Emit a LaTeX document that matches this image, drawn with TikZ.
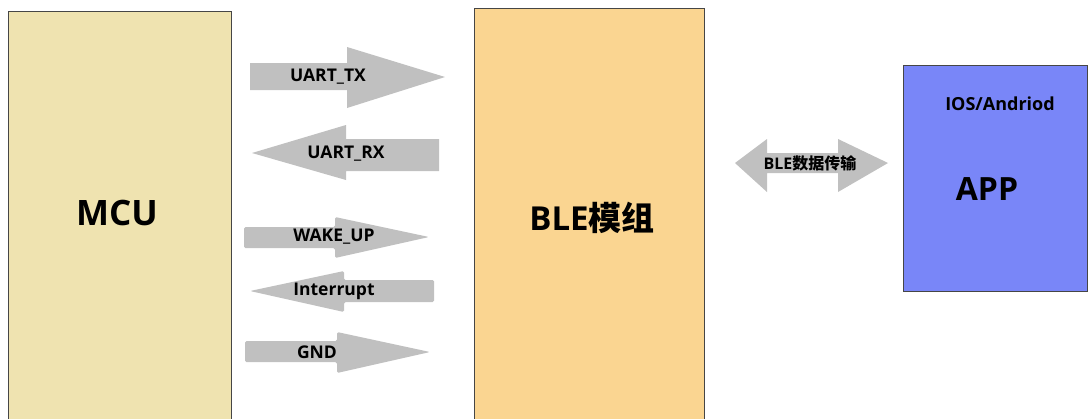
\documentclass[tikz,border=0pt]{standalone}
\usepackage{fontspec}
\setmainfont{Open Sans}
\newfontfamily\cjk{Noto Sans CJK SC}
\definecolor{mcufill}{RGB}{239,227,176}
\definecolor{blefill}{RGB}{250,213,145}
\definecolor{appfill}{RGB}{121,134,248}
\definecolor{arrgray}{RGB}{192,192,192}
\definecolor{edge}{RGB}{70,70,70}
\tikzset{
  blockbox/.style={draw=edge, line width=0.9pt},
  blockarrow/.style={fill=arrgray, draw=none},
  arrlabel/.style={font=\bfseries\fontsize{17.5}{20}\selectfont, inner sep=0pt, text=black},
}
\begin{document}
\begin{tikzpicture}[x=1pt,y=-1pt]
\useasboundingbox (0,0) rectangle (1089,418);
\clip (0,0) rectangle (1089,418);
\fill[white] (0,0) rectangle (1089,418);
% boxes
\draw[blockbox, fill=mcufill] (8,11) rectangle (231,430);
\draw[blockbox, fill=blefill] (474,8) rectangle (704,430);
\draw[blockbox, fill=appfill] (903,65) rectangle (1087,291);
\node[font=\bfseries\fontsize{35}{40}\selectfont, inner sep=0pt] (mcu) at (117,213) {MCU};
\node[font=\bfseries\fontsize{33}{38}\selectfont, inner sep=0pt] (ble) at (592,218) {BLE{\cjk\bfseries 模组}};
\node[font=\bfseries\fontsize{18}{21}\selectfont, inner sep=0pt] (os) at (1000,104) {IOS/Andriod};
\node[font=\bfseries\fontsize{32}{36}\selectfont, inner sep=0pt] (app) at (987,189) {APP};
% UART_TX (right)
\fill[blockarrow] (250,63) -- (347,63) -- (347,47) -- (445,77) -- (347,108) -- (347,90) -- (250,90) -- cycle;
\node[arrlabel] (tx) at (328,77) {UART\_TX};
% UART_RX (left)
\fill[blockarrow] (439,139) -- (346,139) -- (346,125) -- (252,153) -- (346,180) -- (346,171) -- (439,171) -- cycle;
\node[arrlabel] (rx) at (346,154) {UART\_RX};
% WAKE_UP (right)
\fill[blockarrow, rounded corners=1.5pt] (244,227) -- (335,227) -- (335,217) -- (429,237) -- (335,258) -- (335,248) -- (244,248) -- cycle;
\node[arrlabel] (wk) at (334,237) {WAKE\_UP};
% Interrupt (left)
\fill[blockarrow, rounded corners=1.5pt] (434,280) -- (344,280) -- (344,271) -- (250,291) -- (344,312) -- (344,302) -- (434,302) -- cycle;
\node[arrlabel] (irq) at (334,291) {Interrupt};
% GND (right)
\fill[blockarrow, rounded corners=1.5pt] (245,341) -- (337,341) -- (337,332) -- (430,352) -- (337,373) -- (337,362) -- (245,362) -- cycle;
\node[arrlabel] (gnd) at (317,352) {GND};
% BLE double arrow
\fill[blockarrow] (735,163) -- (767,139) -- (767,153) -- (838,153) -- (838,139) -- (888,163) -- (838,192) -- (838,173) -- (767,173) -- (767,192) -- cycle;
\node[font=\bfseries\fontsize{16}{18}\selectfont, inner sep=0pt] (bt) at (810,163) {BLE{\cjk\bfseries 数据传输}};
\end{tikzpicture}
\end{document}
